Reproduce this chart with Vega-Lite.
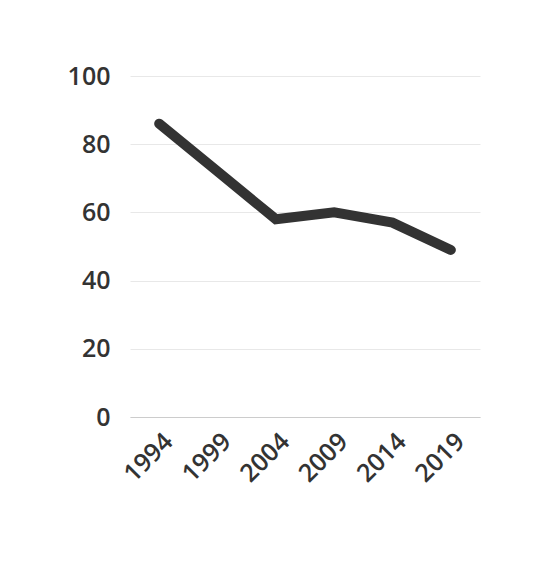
{
  "$schema": "https://vega.github.io/schema/vega-lite/v6.json",
  "width": 350,
  "height": 341,
  "padding": {"left": 130, "top": 76, "right": 65, "bottom": 145},
  "autosize": {"type": "none"},
  "background": "white",
  "config": {"view": {"stroke": null}, "font": "Open Sans"},
  "data": {"values": [
    {"year": "1994", "value": 86},
    {"year": "1999", "value": 72},
    {"year": "2004", "value": 58},
    {"year": "2009", "value": 60},
    {"year": "2014", "value": 57},
    {"year": "2019", "value": 49}
  ]},
  "mark": {"type": "line", "color": "#333333", "strokeWidth": 10, "strokeCap": "round", "strokeJoin": "miter"},
  "encoding": {
    "x": {"field": "year", "type": "ordinal", "scale": {"type": "point", "padding": 0.5},
      "axis": {"title": null, "labelAngle": -45, "labelAlign": "right", "labelBaseline": "middle", "labelFontSize": 25, "labelFontWeight": 600, "labelColor": "#333333", "ticks": false, "domain": true, "domainColor": "#cccccc", "labelPadding": 20, "labelOffset": 9, "grid": false}},
    "y": {"field": "value", "type": "quantitative", "scale": {"domain": [0, 100]},
      "axis": {"title": null, "values": [0, 20, 40, 60, 80, 100], "labelFontSize": 25, "labelFontWeight": 600, "labelColor": "#333333", "ticks": false, "domain": false, "gridColor": "#e8e8e8", "labelPadding": 20}}
  }
}
